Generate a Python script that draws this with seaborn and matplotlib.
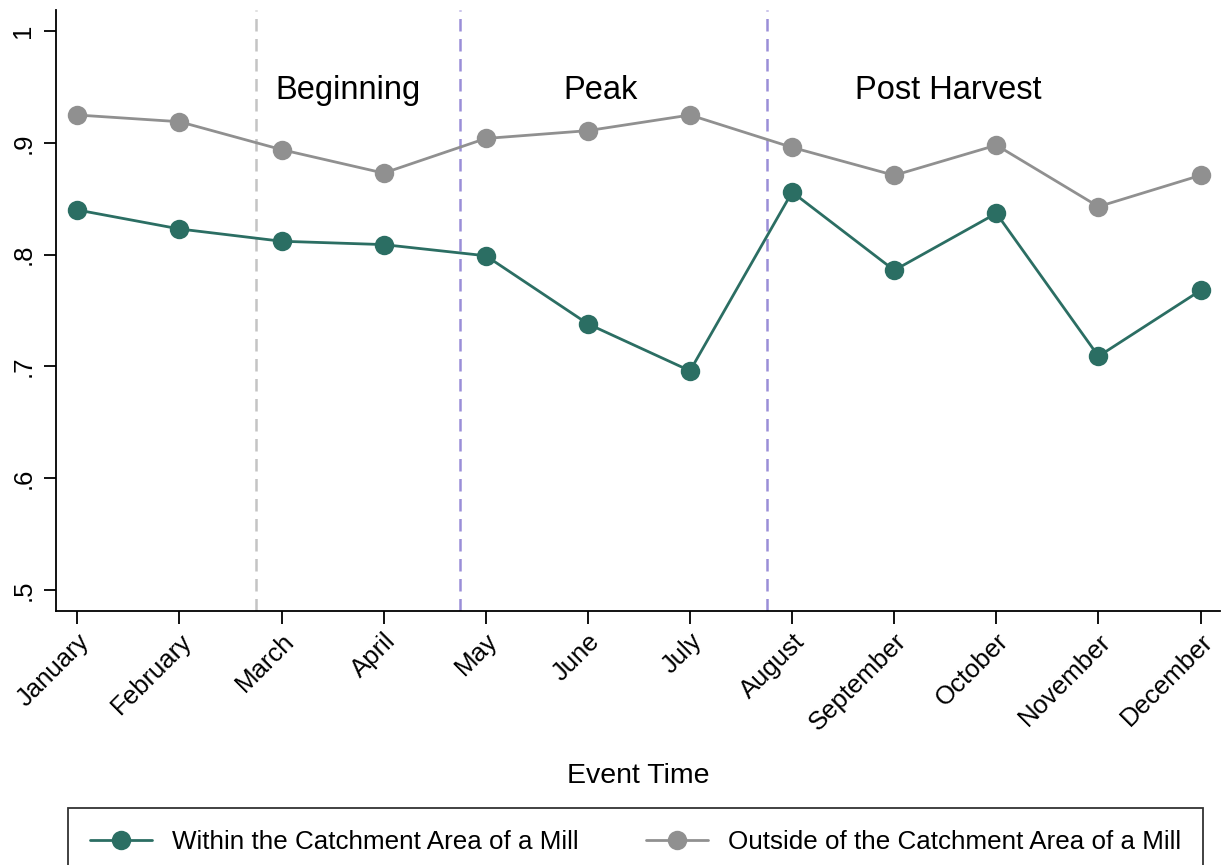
import matplotlib
matplotlib.use("Agg")
import matplotlib.pyplot as plt
import seaborn as sns
import pandas as pd
import numpy as np

months = ["January", "February", "March", "April", "May", "June", "July",
          "August", "September", "October", "November", "December"]
within = [0.840, 0.823, 0.812, 0.809, 0.799, 0.738, 0.696, 0.856, 0.786, 0.837, 0.709, 0.768]
outside = [0.925, 0.919, 0.894, 0.873, 0.904, 0.911, 0.925, 0.896, 0.871, 0.898, 0.843, 0.871]
series_names = ["Within the Catchment Area of a Mill", "Outside of the Catchment Area of a Mill"]
phase_labels = ["Beginning", "Peak", "Post Harvest"]
phase_label_x = [2.65, 5.12, 8.53]
phase_bounds = [1.75, 3.75, 6.75]
ytick_vals = [0.5, 0.6, 0.7, 0.8, 0.9, 1.0]
ytick_labels = [".5", ".6", ".7", ".8", ".9", "1"]

sns.set_style("white")
plt.rcParams["font.family"] = ["Liberation Sans", "DejaVu Sans"]
for k in ["text.color", "axes.labelcolor", "xtick.color", "ytick.color"]:
    plt.rcParams[k] = "black"

df = pd.DataFrame({
    "idx": list(range(12)) * 2,
    "value": within + outside,
    "series": [series_names[0]] * 12 + [series_names[1]] * 12,
})

fig = plt.figure(figsize=(12.22, 8.65), dpi=100)
ax = fig.add_axes([56 / 1222, 1 - 611 / 865, (1220 - 56) / 1222, (611 - 10) / 865])

palette = {series_names[0]: "#2b6e63", series_names[1]: "#909090"}
sns.lineplot(data=df, x="idx", y="value", hue="series", palette=palette,
             marker="o", markersize=14, markeredgewidth=0, linewidth=2.0,
             ax=ax, legend=True)

line_colors = ["#c4c4c4", "#9a8ed8", "#9a8ed8"]
for xb, c in zip(phase_bounds, line_colors):
    ax.axvline(xb, color=c, linestyle=(0, (5, 3)), linewidth=1.8, zorder=0)

for lab, xl in zip(phase_labels, phase_label_x):
    ax.text(xl, 0.947, lab, ha="center", va="center", fontsize=23.5)

ax.set_xlim(-0.209, 11.19)
ax.set_ylim(0.481, 1.019)
ax.set_xticks(range(12))
ax.set_xticklabels(months, rotation=45, ha="right", rotation_mode="anchor", fontsize=18.5)
ax.set_yticks(ytick_vals)
ax.set_yticklabels(ytick_labels, rotation=90, va="center", fontsize=18.5)
ax.tick_params(axis="both", which="major", bottom=True, left=True, direction="out",
               length=9, width=1.3, color="black")
ax.tick_params(axis="y", pad=6)
ax.tick_params(axis="x", pad=4)
ax.set_xlabel("Event Time", fontsize=20.5, labelpad=20)
ax.set_ylabel("")
for s in ["top", "right"]:
    ax.spines[s].set_visible(False)
for s in ["left", "bottom"]:
    ax.spines[s].set_color("black")
    ax.spines[s].set_linewidth(1.3)

handles, labels = ax.get_legend_handles_labels()
ax.get_legend().remove()
leg = fig.legend(handles, labels, loc="upper left", ncol=2,
                 bbox_to_anchor=(68 / 1222, 1 - 808 / 865),
                 fontsize=18.7, frameon=True, fancybox=False, edgecolor="black",
                 handlelength=2.4, handletextpad=0.75, borderpad=0.85,
                 columnspacing=2.6, borderaxespad=0)
leg.get_frame().set_linewidth(1.3)

fig.savefig("out.png", dpi=100)
